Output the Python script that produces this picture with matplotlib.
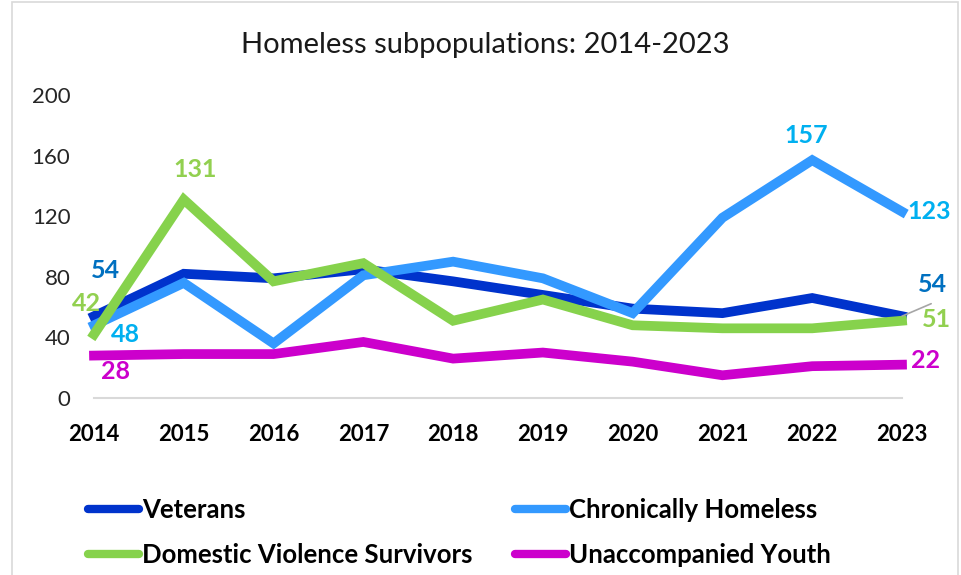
import matplotlib
matplotlib.use("Agg")
import matplotlib.pyplot as plt
from matplotlib.patches import Rectangle

plt.rcParams['font.family'] = ['Lato', 'DejaVu Sans']

years = [2014, 2015, 2016, 2017, 2018, 2019, 2020, 2021, 2022, 2023]
veterans = [54, 82, 79, 85, 77, 68, 59, 56, 66, 54]
chronic = [48, 76, 36, 81, 90, 79, 56, 119, 157, 123]
dv = [42, 131, 77, 89, 51, 65, 48, 46, 46, 51]
youth = [28, 29, 29, 37, 26, 30, 24, 15, 21, 22]

names = ['Veterans', 'Chronically Homeless', 'Domestic Violence Survivors', 'Unaccompanied Youth']
line_colors = ['#0033CC', '#3399FF', '#86D24C', '#CC00CC']
label_colors = ['#0070C0', '#00B0F0', '#92D050', '#CC00CC']

fig = plt.figure(figsize=(9.61, 5.75), dpi=100)
ax = fig.add_axes([94/961, 1-398/575, 808/961, 303/575])

series = [veterans, chronic, dv, youth]
handles = []
for vals, c, n in zip(series, line_colors, names):
    h, = ax.plot(years, vals, color=c, lw=7, label=n, clip_on=False,
                 solid_joinstyle='miter', zorder=3)
    handles.append(h)

ax.set_xlim(2014, 2023)
ax.set_ylim(0, 200)
ax.set_yticks(range(0, 201, 40))
ax.set_xticks(years)
ax.tick_params(axis='both', length=0)
ax.tick_params(axis='y', pad=17, labelsize=16, labelcolor='#262626')
ax.tick_params(axis='x', pad=19, labelsize=16)
for t in ax.get_xticklabels():
    t.set_fontweight('bold')
for s in ['top', 'right', 'left']:
    ax.spines[s].set_visible(False)
ax.spines['bottom'].set_color('#D9D9D9')
ax.spines['bottom'].set_linewidth(1.5)

# data labels: (series index, point index, dx px, dy px)
lab_pos = [
    (0, 0, 11, -46), (1, 0, 31, 9), (2, 0, -8, -31), (3, 0, 21, 16),
    (2, 1, 11, -30), (1, 8, -6, -25),
    (1, 9, 27, 0), (0, 9, 30, -32), (2, 9, 34, -1), (3, 9, 24, -4),
]
for si, pi, dx, dy in lab_pos:
    v = series[si][pi]
    ax.annotate(str(v), (years[pi], v), xytext=(dx * 0.72, -dy * 0.72),
                textcoords='offset points', ha='center', va='center',
                fontsize=18, fontweight='bold', color=label_colors[si],
                annotation_clip=False)

# leader line for the last Veterans label
ax.annotate('', (years[9], veterans[9]), xytext=(21, 9), textcoords='offset points',
            arrowprops=dict(arrowstyle='-', color='#A6A6A6', lw=1.2,
                            shrinkA=0, shrinkB=0), annotation_clip=False)

fig.text(485/961, 1-45/575, 'Homeless subpopulations: 2014-2023', ha='center',
         va='center', fontsize=21, color='#1a1a1a')

kw = dict(frameon=False, fontsize=18.5, handlelength=2.0, handletextpad=0.1,
          labelspacing=0.8, borderaxespad=0, borderpad=0)
leg1 = fig.legend([handles[0], handles[2]], [names[0], names[2]],
                  loc='upper left', bbox_to_anchor=(88/961, 1-498/575), **kw)
leg2 = fig.legend([handles[1], handles[3]], [names[1], names[3]],
                  loc='upper left', bbox_to_anchor=(515/961, 1-498/575), **kw)
for leg in (leg1, leg2):
    for t in leg.get_texts():
        t.set_fontweight('bold')
    for l in leg.get_lines():
        l.set_linewidth(6)
        l.set_solid_capstyle('round')

fig.patches.append(Rectangle((12/961, -0.01), 946/961, 1 - 2/575 + 0.01,
                             transform=fig.transFigure, fill=False,
                             edgecolor='#D9D9D9', lw=1.2))

fig.savefig('out.png', dpi=100)
